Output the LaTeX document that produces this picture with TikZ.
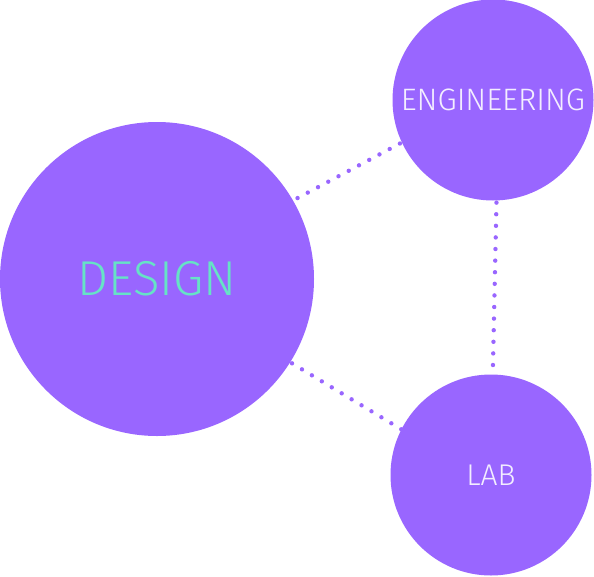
\documentclass[tikz,border=0pt]{standalone}
\usepackage{fontspec}
\setmainfont{Fira Sans Light}
\usetikzlibrary{positioning}
\definecolor{bubble}{HTML}{9966FF}
\definecolor{mint}{HTML}{66E3C6}
\definecolor{pale}{HTML}{F3EEFF}
\tikzset{
    topic/.style = {circle, fill=bubble, inner sep=0pt},
    link/.style = {bubble, line width=4.4pt, line cap=round, dash pattern=on 0pt off 11.6pt}
}

\begin{document}
\begin{tikzpicture}[x=1pt, y=-1pt]

					\useasboundingbox (0,0) rectangle (594,576);

					\node[topic, minimum size=314pt, text=mint, font=\fontsize{49}{49}\selectfont] (design) at (157,279) {DESIGN};
					\node[topic, minimum size=201pt, text=pale, font=\fontsize{31}{31}\selectfont] (eng) at (493,100) {ENGINEERING};
					\node[topic, minimum size=201pt, text=pale, font=\fontsize{30}{30}\selectfont] (lab) at (491,475) {LAB};

					\draw[link, shorten <=5pt] (design.30) -- (eng.205);
					\draw[link, shorten <=2pt] (eng.272) -- (lab.89);
					\draw[link, shorten <=2pt] (design.-32) -- (lab.153);

				\end{tikzpicture}
\end{document}
